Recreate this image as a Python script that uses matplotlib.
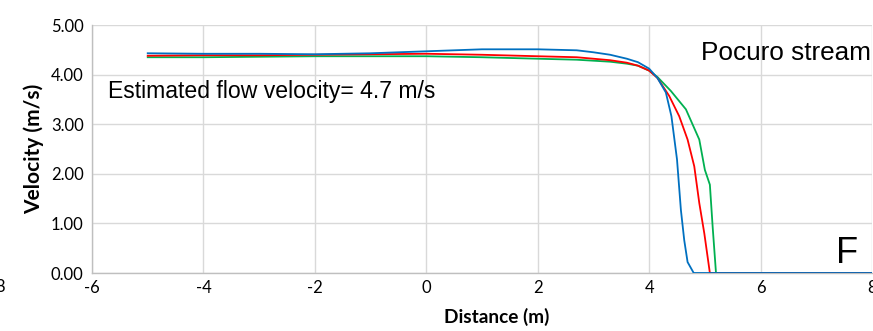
import matplotlib
matplotlib.use("Agg")
import matplotlib.pyplot as plt
from matplotlib.ticker import FormatStrFormatter

plt.rcParams["axes.unicode_minus"] = False

# Data
blue_x = [-5, -4, -3, -2, -1, 0, 1, 2, 2.7, 3.0, 3.3, 3.6, 3.8, 4.0, 4.15, 4.3, 4.4, 4.5, 4.57, 4.63, 4.69, 4.8, 5, 6, 7, 8]
blue_y = [4.43, 4.42, 4.42, 4.41, 4.43, 4.47, 4.51, 4.51, 4.49, 4.45, 4.40, 4.32, 4.25, 4.12, 3.93, 3.64, 3.16, 2.29, 1.27, 0.66, 0.22, 0, 0, 0, 0, 0]

red_x = [-5, -4, -3, -2, -1, 0, 1, 2, 2.7, 3.0, 3.3, 3.6, 3.8, 4.0, 4.15, 4.36, 4.54, 4.69, 4.81, 4.90, 4.99, 5.09, 6, 8]
red_y = [4.38, 4.39, 4.39, 4.40, 4.41, 4.42, 4.40, 4.37, 4.35, 4.32, 4.29, 4.24, 4.18, 4.08, 3.93, 3.57, 3.16, 2.69, 2.15, 1.41, 0.80, 0, 0, 0]

green_x = [-5, -4, -3, -2, -1, 0, 1, 2, 2.7, 3.0, 3.3, 3.6, 3.8, 4.0, 4.15, 4.39, 4.66, 4.90, 5.0, 5.09, 5.14, 5.20, 6, 8]
green_y = [4.35, 4.35, 4.36, 4.37, 4.37, 4.37, 4.35, 4.32, 4.30, 4.28, 4.26, 4.22, 4.18, 4.08, 3.95, 3.67, 3.30, 2.69, 2.08, 1.78, 0.93, 0, 0, 0]

x_ticks = [-6, -4, -2, 0, 2, 4, 6, 8]
y_ticks = [0, 1, 2, 3, 4, 5]

tick_font = "Lato"

fig = plt.figure(figsize=(8.73, 3.31), dpi=100)
ax = fig.add_axes([92 / 873, 1 - 273 / 331, (872 - 92) / 873, (273 - 25) / 331])

ax.plot(green_x, green_y, color="#00B050", lw=1.3, zorder=3)
ax.plot(red_x, red_y, color="#FF0000", lw=1.3, zorder=4)
ax.plot(blue_x, blue_y, color="#0070C0", lw=1.3, zorder=5)

ax.set_xlim(-6, 8)
ax.set_ylim(0, 5)
ax.set_xticks(x_ticks)
ax.set_yticks(y_ticks)
ax.yaxis.set_major_formatter(FormatStrFormatter("%.2f"))
ax.grid(True, color="#d9d9d9", lw=1.0, zorder=0)
ax.set_axisbelow(True)
for s in ["top", "right"]:
    ax.spines[s].set_visible(False)
for s in ["left", "bottom"]:
    ax.spines[s].set_color("#bfbfbf")
    ax.spines[s].set_linewidth(1.0)
ax.tick_params(length=0, labelsize=12, colors="#000000")
ax.tick_params(axis="x", pad=5)
ax.tick_params(axis="y", pad=6)
for lab in ax.get_xticklabels() + ax.get_yticklabels():
    lab.set_fontfamily(tick_font)

ax.set_xlabel("Distance (m)", fontfamily=tick_font, fontweight="bold", fontsize=13.7)
ax.set_ylabel("Velocity (m/s)", fontfamily=tick_font, fontweight="bold", fontsize=15)
ax.xaxis.set_label_coords(0.519, -0.141)
ax.yaxis.set_label_coords(-0.062, 0.5)

ax.text(-5.72, 3.53, "Estimated flow velocity= 4.7 m/s", fontfamily="Liberation Sans", fontsize=16.6, va="baseline", ha="left")
ax.text(7.98, 4.29, "Pocuro stream", fontfamily="Liberation Sans", fontsize=18.8, va="baseline", ha="right")
ax.text(7.55, 0.39, "F", fontfamily="Liberation Sans", fontsize=26, va="center", ha="center")

fig.text(-5 / 873, 1 - 287 / 331, "8", fontfamily=tick_font, fontsize=12, va="center", ha="left")

fig.savefig("out.png", dpi=100)
